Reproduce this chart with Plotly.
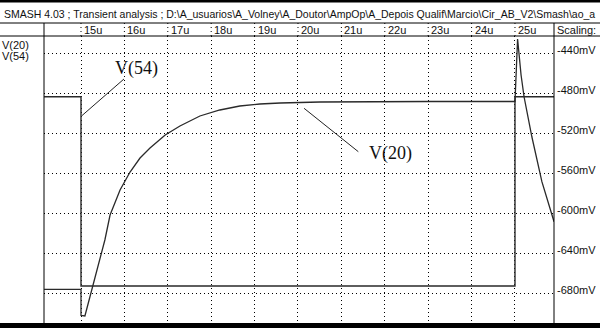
import plotly.graph_objects as go

# ---- data ----
time_v54 = [14.15, 15.0, 15.0, 25.0, 25.0, 25.9]
v54_mV = [-483.2, -483.2, -672.5, -672.5, -483.2, -483.2]

time_v20 = [14.15, 15.0, 15.0, 15.09, 15.32, 15.55, 15.67, 15.90, 16.13, 16.36,
            16.59, 16.94, 17.28, 17.74, 18.20, 18.66, 19.12, 19.59, 20.51, 21.5,
            23.0, 25.0, 25.06, 25.14, 25.21, 25.39, 25.62, 25.9]
v20_mV = [-675.8, -675.8, -702.0, -702.5, -664.5, -626.5, -601.5, -576.5, -558.5, -544.5,
          -534.5, -521.5, -512.5, -502.5, -496.5, -492.5, -490.5, -489.5, -488.5, -488.2,
          -488.0, -488.0, -425.5, -461.5, -483.5, -523.5, -568.2, -608.2]

x_ticks = [15, 16, 17, 18, 19, 20, 21, 22, 23, 24, 25]
x_tick_labels = ["15u", "16u", "17u", "18u", "19u", "20u", "21u", "22u", "23u", "24u", "25u"]
y_ticks = [-440, -480, -520, -560, -600, -640, -680]
y_tick_labels = ["-440mV", "-480mV", "-520mV", "-560mV", "-600mV", "-640mV", "-680mV"]
legend_names = ["V(20)", "V(54)"]
title_text = ("SMASH 4.03 ; Transient analysis ; D:\\A_usuarios\\A_Volney\\A_Doutor\\AmpOp\\"
              "A_Depois Qualif\\Marcio\\Cir_AB_V2\\Smash\\ao_a")

# ---- layout geometry (pixels) ----
W, H = 600, 328
L, R, T, B = 44, 46, 36, 5
PW, PH = W - L - R, H - T - B
HEADER_TOP = 23  # px from top

def py(px_from_top):
    return (H - B - px_from_top) / PH

def px_(px_from_left):
    return (px_from_left - L) / PW

XR = [14.1475, 25.899]
YR = [-709.5, -422.5]

fig = go.Figure()
fig.add_trace(go.Scatter(x=time_v54, y=v54_mV, mode="lines", name="V(54)",
                         line=dict(color="#2a2a2a", width=1.4), hoverinfo="skip"))
fig.add_trace(go.Scatter(x=time_v20, y=v20_mV, mode="lines", name="V(20)",
                         line=dict(color="#2a2a2a", width=1.3), hoverinfo="skip"))

font_ui = dict(family="Liberation Sans, Arial, sans-serif", size=11, color="#111")
font_title = dict(family="Liberation Sans, Arial, sans-serif", size=10.5, color="#111")
font_serif = dict(family="Liberation Serif, Times New Roman, serif", size=18, color="#111")

GRID_DASH = "1px,3px"
GRID_COLOR = "#000"
shapes = []
ann = []

for t, lab in zip(x_ticks, x_tick_labels):
    shapes.append(dict(type="line", xref="x", yref="paper", x0=t, x1=t,
                       y0=1, y1=py(HEADER_TOP), line=dict(color=GRID_COLOR, width=1, dash=GRID_DASH)))
    ann.append(dict(x=t, xref="x", y=py(29.5), yref="paper", text=lab, showarrow=False,
                    xanchor="left", yanchor="middle", xshift=1, font=font_ui))

for v, lab in zip(y_ticks, y_tick_labels):
    ann.append(dict(x=1, xref="paper", y=v, yref="y", text=lab, showarrow=False,
                    xanchor="left", yanchor="middle", xshift=1, yshift=4, font=font_ui))
ann.append(dict(x=1, xref="paper", y=py(29.5), yref="paper", text="Scaling:", showarrow=False,
                xanchor="left", yanchor="middle", xshift=1, font=font_ui))

for i, nm in enumerate(legend_names):
    ann.append(dict(x=px_(0), xref="paper", y=py(45 + 11 * i), yref="paper", text=nm,
                    showarrow=False, xanchor="left", yanchor="middle", font=font_ui))

ann.append(dict(x=px_(2), xref="paper", y=py(13.5), yref="paper", text=title_text,
                showarrow=False, xanchor="left", yanchor="middle", font=font_title))

ann.append(dict(x=16.29, y=-454.5, xref="x", yref="y", text="V(54)", showarrow=False,
                xanchor="center", yanchor="middle", font=font_serif))
ann.append(dict(x=22.13, y=-540.2, xref="x", yref="y", text="V(20)", showarrow=False,
                xanchor="center", yanchor="middle", font=font_serif))
shapes.append(dict(type="line", xref="x", yref="y", x0=15.02, y0=-502.2, x1=15.99, y1=-465.5,
                   line=dict(color="#222", width=1)))
shapes.append(dict(type="line", xref="x", yref="y", x0=20.14, y0=-494.8, x1=21.39, y1=-538.2,
                   line=dict(color="#222", width=1)))

shapes += [
    dict(type="line", xref="paper", yref="paper", x0=px_(0), x1=px_(W), y0=py(HEADER_TOP), y1=py(HEADER_TOP),
         line=dict(color="#000", width=1)),
    dict(type="line", xref="paper", yref="paper", x0=px_(0), x1=px_(W), y0=1, y1=1,
         line=dict(color="#000", width=1)),
    dict(type="line", xref="paper", yref="paper", x0=0, x1=0, y0=0, y1=py(HEADER_TOP),
         line=dict(color="#000", width=1)),
    dict(type="line", xref="paper", yref="paper", x0=1, x1=1, y0=0, y1=py(HEADER_TOP),
         line=dict(color="#000", width=1)),
    dict(type="rect", xref="paper", yref="paper", x0=px_(0), x1=px_(W), y0=py(0), y1=py(2.5),
         fillcolor="#000", line=dict(width=0)),
    dict(type="rect", xref="paper", yref="paper", x0=px_(0), x1=px_(W), y0=py(H), y1=0,
         fillcolor="#000", line=dict(width=0)),
]

fig.update_layout(
    width=W, height=H, margin=dict(l=L, r=R, t=T, b=B),
    paper_bgcolor="white", plot_bgcolor="white", showlegend=False,
    shapes=shapes, annotations=ann,
    xaxis=dict(range=XR, tick0=15, dtick=1, showticklabels=False, ticks="",
               showgrid=True, gridcolor=GRID_COLOR, gridwidth=1, griddash=GRID_DASH,
               zeroline=False, showline=False, fixedrange=True),
    yaxis=dict(range=YR, tick0=-440, dtick=40, showticklabels=False, ticks="",
               showgrid=True, gridcolor=GRID_COLOR, gridwidth=1, griddash=GRID_DASH,
               zeroline=False, showline=False, fixedrange=True),
)

fig.write_html("out.html", config={"displayModeBar": False},
               post_script="document.body.style.margin='0';document.body.style.overflow='hidden';")
